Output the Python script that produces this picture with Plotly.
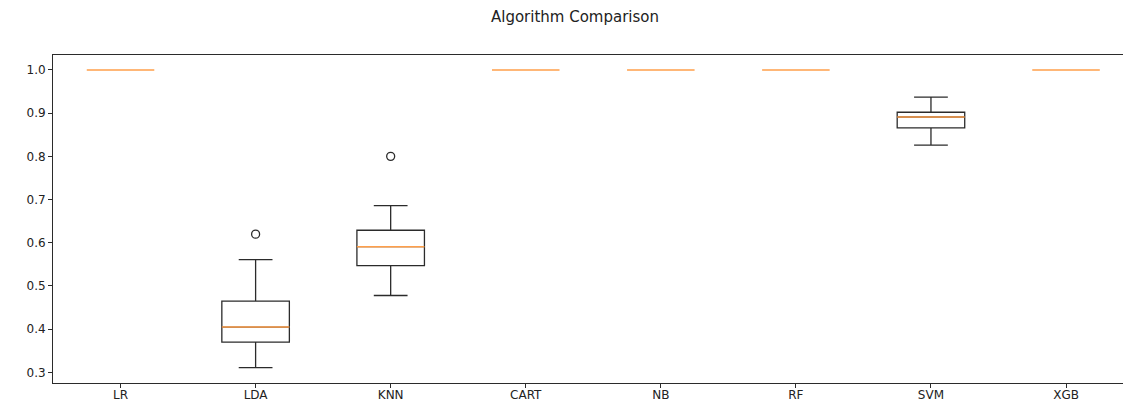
import plotly.graph_objects as go

# ---- data ----
algorithms = ["LR", "LDA", "KNN", "CART", "NB", "RF", "SVM", "XGB"]
q1_vals = [1.0, 0.370, 0.547, 1.0, 1.0, 1.0, 0.866, 1.0]
median_vals = [1.0, 0.405, 0.591, 1.0, 1.0, 1.0, 0.891, 1.0]
q3_vals = [1.0, 0.465, 0.629, 1.0, 1.0, 1.0, 0.902, 1.0]
lower_whisker = [1.0, 0.311, 0.478, 1.0, 1.0, 1.0, 0.826, 1.0]
upper_whisker = [1.0, 0.561, 0.686, 1.0, 1.0, 1.0, 0.937, 1.0]
outlier_algos = ["LDA", "KNN"]
outlier_vals = [0.620, 0.800]
y_ticks = [0.3, 0.4, 0.5, 0.6, 0.7, 0.8, 0.9, 1.0]

positions = list(range(1, len(algorithms) + 1))
pos_of = {a: p for a, p in zip(algorithms, positions)}
BOX_W = 0.5
FONT = "DejaVu Sans"
DARK = "#2b2b2b"

fig = go.Figure()

# boxes with a non-zero spread (zero-spread boxes collapse onto the median line)
idx = [i for i in range(len(algorithms)) if upper_whisker[i] > lower_whisker[i]]
fig.add_trace(go.Box(
    x=[positions[i] for i in idx],
    q1=[q1_vals[i] for i in idx], median=[median_vals[i] for i in idx],
    q3=[q3_vals[i] for i in idx],
    lowerfence=[lower_whisker[i] for i in idx],
    upperfence=[upper_whisker[i] for i in idx],
    width=BOX_W, whiskerwidth=0.5, boxpoints=False,
    line=dict(color=DARK, width=1.3), fillcolor="rgba(0,0,0,0)",
    showlegend=False, hoverinfo="skip",
))

# orange median lines
mx, my = [], []
for p, m in zip(positions, median_vals):
    mx += [p - BOX_W / 2, p + BOX_W / 2, None]
    my += [m, m, None]
fig.add_trace(go.Scatter(
    x=mx, y=my, mode="lines", line=dict(color="#ff9f4a", width=1.5),
    showlegend=False, hoverinfo="skip",
))

# outliers
fig.add_trace(go.Scatter(
    x=[pos_of[a] for a in outlier_algos], y=outlier_vals, mode="markers",
    marker=dict(symbol="circle-open", size=8, color=DARK, line=dict(width=1.3)),
    showlegend=False, hoverinfo="skip",
))

W, H = 1123, 401
L, T, B = 53, 55, 18
plot_w = W - L
unit_px = 135.07
x_max = 0.5 + plot_w / unit_px

fig.update_layout(
    width=W, height=H,
    margin=dict(l=L, r=0, t=T, b=B, autoexpand=False),
    plot_bgcolor="white", paper_bgcolor="white",
    font=dict(family=FONT, size=12, color="#222"),
    title=dict(text="Algorithm Comparison", x=575 / W, xanchor="center",
               y=1 - 17 / H, yanchor="middle",
               font=dict(family=FONT, size=15, color="#222")),
)
fig.update_xaxes(
    range=[0.5, x_max], tickmode="array", tickvals=positions, ticktext=algorithms,
    showgrid=False, zeroline=False, showline=True, linecolor=DARK, linewidth=1,
    mirror=True, ticks="outside", ticklen=4, tickcolor=DARK, automargin=False,
    ticklabelstandoff=-3,
    tickfont=dict(family=FONT, size=12, color="#222"),
)
fig.update_yaxes(
    range=[0.2755, 1.0345], tickmode="array", tickvals=y_ticks,
    ticktext=[f"{v:.1f}" for v in y_ticks],
    showgrid=False, zeroline=False, showline=True, linecolor=DARK, linewidth=1,
    ticks="outside", ticklen=4, tickcolor=DARK, automargin=False,
    tickfont=dict(family=FONT, size=12, color="#222"),
)

fig.write_html("out.html")
